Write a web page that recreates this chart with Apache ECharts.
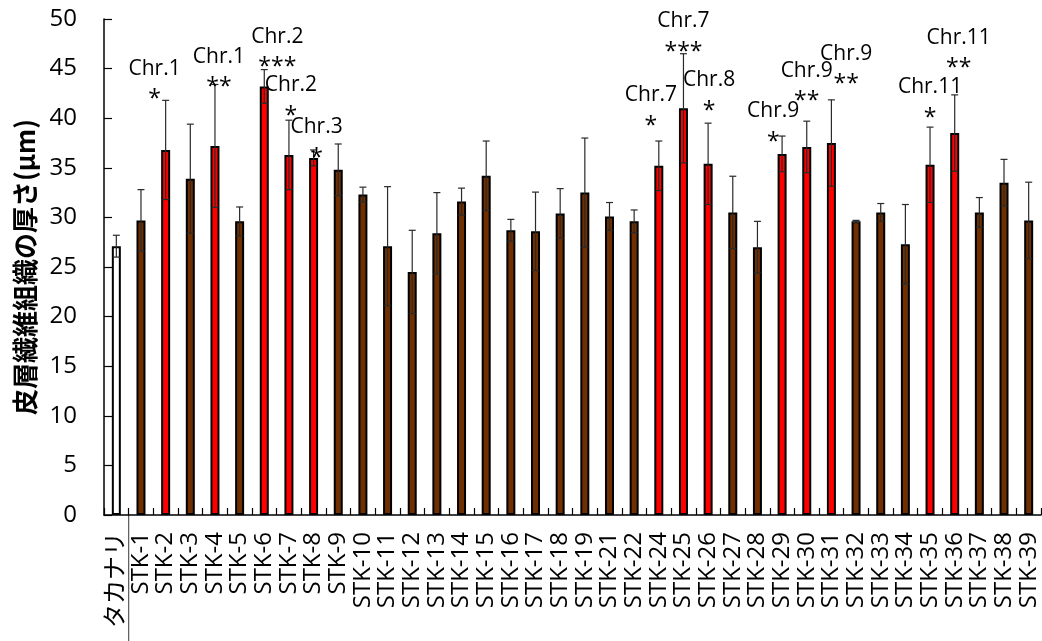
<!DOCTYPE html>
<html>
<head>
<meta charset="utf-8">
<script src="https://cdn.jsdelivr.net/npm/echarts@6/dist/echarts.min.js"></script>
<style>html,body{margin:0;padding:0;background:#fff}#c{width:1042px;height:641px}</style>
</head>
<body>
<div id="c"></div>
<script>
const categories = ['タカナリ','STK-1','STK-2','STK-3','STK-4','STK-5','STK-6','STK-7','STK-8','STK-9','STK-10','STK-11','STK-12','STK-13','STK-14','STK-15','STK-16','STK-17','STK-18','STK-19','STK-21','STK-22','STK-24','STK-25','STK-26','STK-27','STK-28','STK-29','STK-30','STK-31','STK-32','STK-33','STK-34','STK-35','STK-36','STK-37','STK-38','STK-39'];
const means = [27.1,29.7,36.8,33.9,37.2,29.6,43.2,36.3,36.0,34.8,32.3,27.1,24.5,28.4,31.6,34.2,28.7,28.6,30.4,32.5,30.1,29.6,35.2,41.0,35.4,30.5,27.0,36.4,37.1,37.5,29.6,30.5,27.3,35.3,38.5,30.5,33.5,29.7];
const errors = [1.1,3.1,5.0,5.5,6.2,1.45,1.7,3.5,0.8,2.6,0.75,6.0,4.2,4.1,1.35,3.5,1.1,3.95,2.5,5.5,1.4,1.15,2.5,5.5,4.1,3.65,2.6,1.8,2.6,4.35,0.1,0.9,4.0,3.8,3.85,1.5,2.35,3.85];
const yTicks = [0,5,10,15,20,25,30,35,40,45,50];

const annoCats = ['STK-2','STK-4','STK-6','STK-7','STK-8','STK-24','STK-25','STK-26','STK-29','STK-30','STK-31','STK-35','STK-36'];
const annoChr = ['Chr.1','Chr.1','Chr.2','Chr.2','Chr.3','Chr.7','Chr.7','Chr.8','Chr.9','Chr.9','Chr.9','Chr.11','Chr.11'];
const annoStars = ['*','**','***','*','*','*','***','*','*','**','**','*','**'];
const annoY = [45.0,46.2,48.2,43.3,39.1,42.3,49.8,43.8,40.7,44.8,46.5,43.1,48.1];
const annoDx = [-0.45,0.16,0.53,0.08,0.12,-0.32,0,0.04,-0.36,0,0.6,0,0.16];

const BROWN = '#702F00', RED = '#FF0000';
const FONT = "'Open Sans','Noto Sans CJK JP',sans-serif";

const barData = means.map((v, i) => ({
  value: v,
  itemStyle: { color: i === 0 ? '#FFFFFF' : (annoCats.includes(categories[i]) ? RED : BROWN) }
}));
const errData = means.map((v, i) => [i, v - errors[i], v + errors[i]]);
const annoData = annoCats.map((c, k) => [categories.indexOf(c), annoY[k], k]);

const chart = echarts.init(document.getElementById('c'), null, { renderer: 'canvas' });
chart.setOption({
  animation: false,
  backgroundColor: '#fff',
  grid: { left: 104, right: 1, top: 19, bottom: 126, containLabel: false },
  xAxis: {
    type: 'category',
    data: categories,
    boundaryGap: true,
    axisLine: { lineStyle: { color: '#000', width: 1.5 } },
    axisTick: { show: true, inside: true, length: 7, lineStyle: { color: '#000', width: 1.2 } },
    axisLabel: { rotate: 90, interval: 0, margin: 17, color: '#000', fontSize: 24, fontFamily: FONT },
    splitLine: { show: false }
  },
  yAxis: {
    type: 'value',
    min: yTicks[0], max: yTicks[yTicks.length - 1], interval: 5,
    name: '皮層繊維組織の厚さ(μm)',
    nameLocation: 'middle',
    nameGap: 66,
    nameTextStyle: { fontSize: 26, fontWeight: 'bold', color: '#000', fontFamily: "'Noto Sans CJK JP',sans-serif" },
    axisLine: { show: true, lineStyle: { color: '#000', width: 1.5 } },
    axisTick: { show: true, inside: true, length: 8, lineStyle: { color: '#000', width: 1.2 } },
    axisLabel: { margin: 27, color: '#000', fontSize: 24, fontFamily: FONT },
    splitLine: { show: false }
  },
  series: [
    {
      type: 'bar',
      data: barData,
      barWidth: 9,
      itemStyle: { borderColor: '#000', borderWidth: 2 },
      z: 2
    },
    {
      type: 'custom',
      data: errData,
      z: 3,
      renderItem: function (params, api) {
        const x = api.value(0);
        const lo = api.coord([x, api.value(1)]);
        const hi = api.coord([x, api.value(2)]);
        const cw = 3.5;
        const st = { stroke: '#2a2a2a', lineWidth: 1.2 };
        return {
          type: 'group',
          children: [
            { type: 'line', shape: { x1: hi[0], y1: hi[1], x2: lo[0], y2: lo[1] }, style: st },
            { type: 'line', shape: { x1: hi[0] - cw, y1: hi[1], x2: hi[0] + cw, y2: hi[1] }, style: st },
            { type: 'line', shape: { x1: lo[0] - cw, y1: lo[1], x2: lo[0] + cw, y2: lo[1] }, style: st }
          ]
        };
      }
    },
    {
      type: 'custom',
      data: annoData,
      z: 4,
      clip: false,
      renderItem: function (params, api) {
        const k = api.value(2);
        const p = api.coord([api.value(0), api.value(1)]);
        const w = api.size([1, 0])[0];
        const x = p[0] + annoDx[k] * w;
        return {
          type: 'group',
          children: [
            { type: 'text', style: { text: annoChr[k], x: x, y: p[1], align: 'center', verticalAlign: 'middle', fontSize: 21, fontFamily: FONT, fill: '#000' } },
            { type: 'text', style: { text: annoStars[k], x: x, y: p[1] + 31, align: 'center', verticalAlign: 'middle', fontSize: 23, fontFamily: FONT, fill: '#000' } }
          ]
        };
      }
    }
  ]
});

// separator line below the axis between the control and the STK lines
const p0 = chart.convertToPixel({ xAxisIndex: 0 }, categories[0]);
const p1 = chart.convertToPixel({ xAxisIndex: 0 }, categories[1]);
const py = chart.convertToPixel({ yAxisIndex: 0 }, 0);
const sx = (p0 + p1) / 2;
chart.setOption({
  graphic: [{ type: 'line', shape: { x1: sx, y1: py, x2: sx, y2: 641 }, style: { stroke: '#595959', lineWidth: 1.2 } }]
});
</script>
</body>
</html>
